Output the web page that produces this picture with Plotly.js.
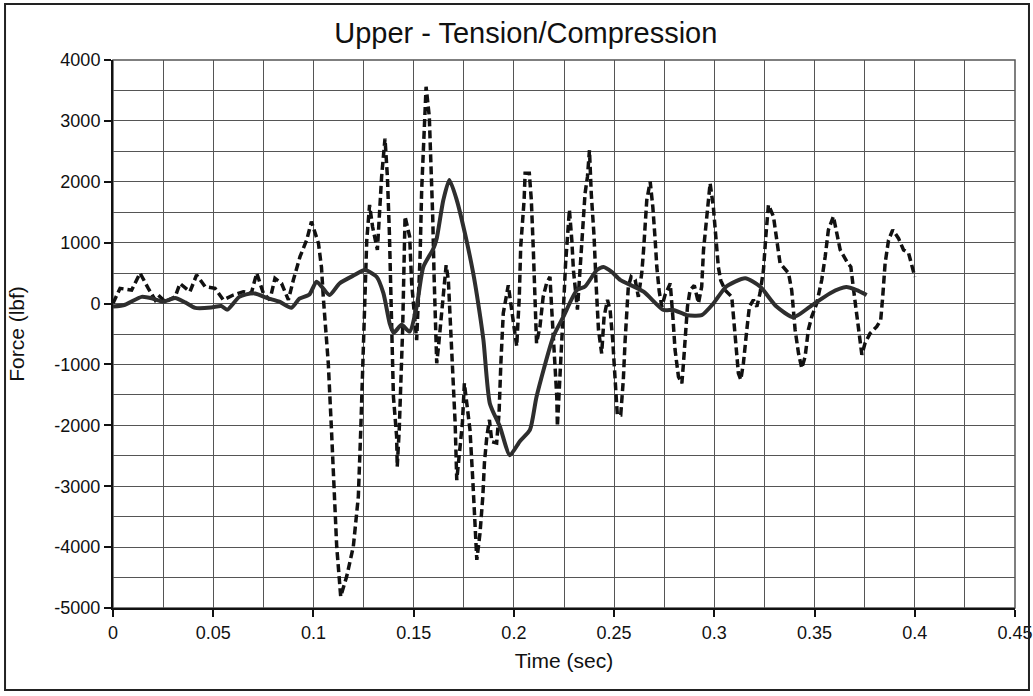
<!DOCTYPE html>
<html>
<head>
<meta charset="utf-8">
<script src="https://cdn.plot.ly/plotly-3.0.1.min.js"></script>
<style>html,body{margin:0;padding:0;background:#fff;}#chart{width:1033px;height:696px;}</style>
</head>
<body>
<div id="chart"></div>
<script>
// Solid curve (Time sec, Force lbf)
const solidTime = [0.000,0.006,0.0143,0.020,0.025,0.031,0.036,0.041,0.049,0.054,0.057,0.063,0.070,0.077,0.083,0.089,0.093,0.098,0.1016,0.108,0.113,0.120,0.1257,0.1315,0.1349,0.138,0.140,0.144,0.148,0.1515,0.1548,0.1598,0.1615,0.1648,0.1678,0.1715,0.1756,0.1797,0.1815,0.1848,0.188,0.193,0.198,0.203,0.208,0.2113,0.2197,0.2247,0.2314,0.2355,0.2414,0.2447,0.2488,0.253,0.2647,0.2746,0.2796,0.2863,0.2937,0.2995,0.306,0.3154,0.3228,0.331,0.3395,0.3478,0.3578,0.3658,0.371,0.376];
const solidForce = [-50,-20,110,80,30,90,20,-70,-65,-40,-100,110,170,90,30,-70,80,150,360,140,330,460,550,440,170,-320,-480,-350,-460,-50,600,900,1070,1700,2030,1700,1150,500,150,-600,-1640,-2020,-2490,-2260,-2075,-1530,-540,-215,220,280,550,600,520,390,195,-105,-105,-190,-190,0,280,415,280,-50,-225,-50,170,270,220,140];

// Dashed curve (Time sec, Force lbf)
const dashTime = [0.000,0.0035,0.0093,0.0135,0.0176,0.021,0.0226,0.026,0.031,0.0334,0.0384,0.0417,0.0459,0.0509,0.055,0.060,0.065,0.069,0.0717,0.075,0.0783,0.0808,0.0841,0.0875,0.090,0.0933,0.0967,0.0990,0.1025,0.104,0.1049,0.1074,0.109,0.1103,0.1116,0.1136,0.1166,0.1199,0.1224,0.1236,0.1246,0.1257,0.1266,0.128,0.1295,0.1319,0.1332,0.134,0.1357,0.1369,0.1379,0.1385,0.139,0.1399,0.1415,0.1418,0.1428,0.1437,0.1445,0.1452,0.1457,0.148,0.149,0.1515,0.1525,0.1532,0.154,0.1552,0.1562,0.1578,0.1587,0.1595,0.1602,0.1607,0.1615,0.1624,0.1648,0.1662,0.1673,0.1685,0.1695,0.1707,0.1715,0.1732,0.1743,0.1753,0.1765,0.1781,0.1795,0.1806,0.1815,0.1831,0.1845,0.1853,0.1865,0.1878,0.189,0.1914,0.1926,0.1935,0.1947,0.1972,0.199,0.2014,0.2027,0.2034,0.2051,0.2056,0.2077,0.2087,0.2097,0.2106,0.2113,0.213,0.2146,0.2163,0.218,0.2188,0.2201,0.2214,0.2217,0.2227,0.2238,0.225,0.2258,0.2277,0.2289,0.2297,0.2317,0.233,0.2344,0.2355,0.2367,0.2377,0.2386,0.240,0.241,0.2422,0.2438,0.245,0.2467,0.248,0.2493,0.2505,0.2516,0.2533,0.2546,0.2555,0.2563,0.2571,0.2585,0.2605,0.2621,0.2638,0.2647,0.2655,0.2663,0.268,0.2693,0.2705,0.2713,0.2725,0.2738,0.2754,0.278,0.2793,0.2804,0.2821,0.2838,0.2846,0.2854,0.2866,0.2879,0.290,0.2921,0.2937,0.2946,0.2962,0.2979,0.2995,0.3009,0.302,0.3032,0.3054,0.3087,0.3095,0.3109,0.312,0.3132,0.3145,0.3162,0.3175,0.3195,0.3212,0.3228,0.3245,0.3258,0.327,0.3295,0.3308,0.3328,0.337,0.3386,0.3403,0.342,0.3436,0.3453,0.3469,0.3486,0.3511,0.3536,0.3553,0.3569,0.3594,0.3611,0.3628,0.3661,0.3681,0.3695,0.3703,0.3719,0.3736,0.3752,0.3777,0.381,0.383,0.384,0.3852,0.3869,0.389,0.3919,0.3944,0.3969,0.400];
const dashForce = [5,250,220,500,250,60,140,30,110,330,195,470,280,250,60,140,195,170,500,170,60,415,330,60,390,770,1050,1345,990,600,110,-980,-2075,-3170,-3990,-4810,-4480,-3990,-3170,-2075,-980,390,1040,1620,1260,880,1540,2080,2710,2080,1150,330,-600,-1530,-2185,-2680,-2075,-1250,-430,660,1430,1100,330,-600,110,770,1870,2800,3560,3070,2250,1430,440,-160,-980,-700,110,630,390,-430,-1250,-1970,-2900,-2350,-1970,-1310,-1690,-2075,-2900,-3550,-4210,-3770,-3170,-2620,-2185,-1910,-2270,-2290,-1800,-980,-160,300,-160,-700,110,930,1700,2140,2140,1700,880,60,-650,-380,110,330,440,-50,-700,-1530,-2020,-1420,-870,110,660,1540,1040,550,-100,550,1100,1810,2080,2520,1810,1100,330,-430,-820,-215,60,-105,-600,-1250,-1830,-1830,-1250,-600,-50,280,440,390,110,500,880,1430,1700,2000,1590,1040,600,200,-50,140,330,-215,-760,-1200,-1310,-980,-540,-50,220,300,5,280,880,1430,1975,1590,990,600,380,220,110,-215,-760,-1145,-1250,-980,-430,-50,60,-50,170,550,1150,1620,1430,1100,660,500,220,-430,-820,-1060,-870,-430,-215,5,390,770,1210,1430,1180,880,690,600,220,5,-430,-840,-650,-490,-380,-270,110,660,1040,1210,1070,880,830,440];

const xTickVals = [0,0.05,0.1,0.15,0.2,0.25,0.3,0.35,0.4,0.45];
const xTickText = ['0','0.05','0.1','0.15','0.2','0.25','0.3','0.35','0.4','0.45'];
const yTickVals = [-5000,-4000,-3000,-2000,-1000,0,1000,2000,3000,4000];
const yTickText = ['-5000','-4000','-3000','-2000','-1000','0','1000','2000','3000','4000'];

const FONT = 'Liberation Sans, Arial, sans-serif';

const traces = [
  {x: dashTime, y: dashForce, type: 'scatter', mode: 'lines',
   line: {color: '#111', width: 3.5, dash: '8px,4px'}, hoverinfo: 'skip'},
  {x: solidTime, y: solidForce, type: 'scatter', mode: 'lines',
   line: {color: '#2e2e2e', width: 4, shape: 'spline', smoothing: 0.6}, hoverinfo: 'skip'}
];

const layout = {
  width: 1033, height: 696,
  margin: {l: 113, r: 18, t: 60, b: 88},
  paper_bgcolor: '#fff', plot_bgcolor: '#fff',
  showlegend: false,
  font: {family: FONT, color: '#111', size: 18},
  title: {text: 'Upper - Tension/Compression', font: {family: FONT, size: 29, color: '#111'},
          x: 0.509, xref: 'container', xanchor: 'center', y: 0.953, yref: 'container', yanchor: 'middle'},
  xaxis: {
    range: [0, 0.45], tickvals: xTickVals, ticktext: xTickText,
    showgrid: true, gridcolor: '#555', gridwidth: 1,
    minor: {dtick: 0.025, tick0: 0, showgrid: true, gridcolor: '#555', gridwidth: 1, ticks: ''},
    showline: true, linecolor: '#111', linewidth: 2,
    ticks: 'outside', ticklen: 7, tickwidth: 2, tickcolor: '#111',
    zeroline: false, tickfont: {size: 18},
    title: {text: 'Time (sec)', font: {size: 21}, standoff: 12}
  },
  yaxis: {
    range: [-5000, 4000], tickvals: yTickVals, ticktext: yTickText,
    showgrid: true, gridcolor: '#555', gridwidth: 1,
    minor: {dtick: 500, tick0: 0, showgrid: true, gridcolor: '#555', gridwidth: 1, ticks: ''},
    showline: true, linecolor: '#111', linewidth: 2,
    ticks: 'outside', ticklen: 7, tickwidth: 2, tickcolor: '#111',
    zeroline: false, tickfont: {size: 18},
    title: {text: 'Force (lbf)', font: {size: 21}, standoff: 24}
  },
  shapes: [
    {type: 'rect', xref: 'paper', yref: 'paper', x0: 0, x1: 1, y0: 0, y1: 1,
     line: {color: '#555', width: 1.5}, fillcolor: 'rgba(0,0,0,0)', layer: 'below'},
    {type: 'rect', xref: 'paper', yref: 'paper', x0: -0.1197, x1: 1.0155, y0: -0.1496, y1: 1.102,
     line: {color: '#222', width: 2}, fillcolor: 'rgba(0,0,0,0)'}
  ]
};

Plotly.newPlot('chart', traces, layout, {staticPlot: true, displayModeBar: false});
</script>
</body>
</html>
